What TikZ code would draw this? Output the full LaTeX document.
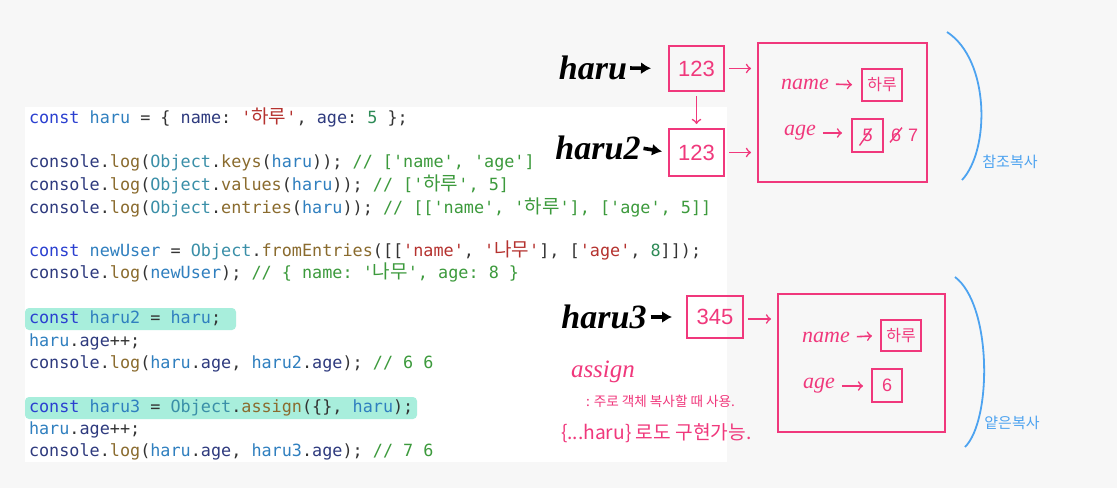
\documentclass[tikz,border=0pt]{standalone}
\usepackage{fontspec}
\setmainfont{Liberation Serif}
\setsansfont{Liberation Sans}
\setmonofont{DejaVu Sans Mono}
\newfontfamily\kr{Noto Sans CJK KR}
\usetikzlibrary{positioning, arrows.meta}

\definecolor{pagebg}{HTML}{F7F7F7}
\definecolor{marker}{HTML}{A8EEDC}
\definecolor{ckey}{HTML}{2A3FD0}
\definecolor{cvar}{HTML}{2F7FBF}
\definecolor{cprop}{HTML}{2E3A7E}
\definecolor{cfun}{HTML}{8A6B2E}
\definecolor{cobj}{HTML}{3A8FA8}
\definecolor{cstr}{HTML}{B5322F}
\definecolor{cnum}{HTML}{2E8B57}
\definecolor{ccom}{HTML}{3C9A3C}
\definecolor{cplain}{HTML}{333333}
\definecolor{pen}{HTML}{F0387C}
\definecolor{sky}{HTML}{4DA3F0}

% syntax colours for the code panel
\newcommand\ck[1]{\textcolor{ckey}{#1}}
\newcommand\cv[1]{\textcolor{cvar}{#1}}
\newcommand\cp[1]{\textcolor{cprop}{#1}}
\newcommand\cf[1]{\textcolor{cfun}{#1}}
\newcommand\co[1]{\textcolor{cobj}{#1}}
\newcommand\cs[1]{\textcolor{cstr}{#1}}
\newcommand\cn[1]{\textcolor{cnum}{#1}}
\newcommand\cc[1]{\textcolor{ccom}{#1}}
\newcommand\kw[1]{{\kr\fontsize{9.5}{10}\selectfont#1}}

\begin{document}
\begin{tikzpicture}[
    x=0.5pt, y=-0.5pt,
    line width=1pt,
    % Style for the code lines
    code/.style={anchor=base west, inner sep=0pt, text=cplain,
        font=\ttfamily\fontsize{8.4}{10}\selectfont},
    % Style for the black hand lettering
    hand/.style={inner sep=0pt, font=\bfseries\itshape\fontsize{17}{17}\selectfont},
    % Pink pen: boxes, words and arrows
    penbox/.style={draw=pen, line width=1pt, inner sep=0pt, text=pen},
    penword/.style={inner sep=0pt, text=pen, font=\itshape\fontsize{11}{11}\selectfont},
    penarrow/.style={draw=pen, line width=0.8pt, -to},
    inkarrow/.style={draw=black, line width=1.8pt, -{Latex[length=5pt,width=6pt]}},
    note/.style={anchor=west, inner sep=0pt, text=pen},
    bluenote/.style={inner sep=0pt, text=sky, font=\kr\fontsize{7.5}{8}\selectfont}
]

    % ==========================
    % Background and code panel
    % ==========================
    \fill[pagebg] (0,0) rectangle (1117,488);
    \fill[white] (25,107) rectangle (727,462);
    \fill[marker, rounded corners=2pt] (25,308) rectangle (236,330);
    \fill[marker, rounded corners=2pt] (25,397) rectangle (417,419);

    % ==========================
    % Code
    % ==========================
    \node[code] (line1) at (28,123) {\ck{const} \cv{haru} = \{ \cp{name}: \cs{'\kw{하루}'}, \cp{age}: \cn{5} \};};
    \node[code] (line2) at (28,167) {\cp{console}.\cf{log}(\co{Object}.\cf{keys}(\cv{haru})); \cc{// ['name', 'age']}};
    \node[code] (line3) at (28,190) {\cp{console}.\cf{log}(\co{Object}.\cf{values}(\cv{haru})); \cc{// ['\kw{하루}', 5]}};
    \node[code] (line4) at (28,213) {\cp{console}.\cf{log}(\co{Object}.\cf{entries}(\cv{haru})); \cc{// [['name', '\kw{하루}'], ['age', 5]]}};
    \node[code] (line5) at (28,256) {\ck{const} \cv{newUser} = \co{Object}.\cf{fromEntries}([[\cs{'name'}, \cs{'\kw{나무}'}], [\cs{'age'}, \cn{8}]]);};
    \node[code] (line6) at (28,278) {\cp{console}.\cf{log}(\cv{newUser}); \cc{// \{ name: '\kw{나무}', age: 8 \}}};
    \node[code] (line7) at (28,323) {\ck{const} \cv{haru2} = \cv{haru};};
    \node[code] (line8) at (28,346) {\cv{haru}.\cp{age}++;};
    \node[code] (line9) at (28,368) {\cp{console}.\cf{log}(\cv{haru}.\cp{age}, \cv{haru2}.\cp{age}); \cc{// 6 6}};
    \node[code] (line10) at (28,412) {\ck{const} \cv{haru3} = \co{Object}.\cf{assign}(\{\}, \cv{haru});};
    \node[code] (line11) at (28,434) {\cv{haru}.\cp{age}++;};
    \node[code] (line12) at (28,456) {\cp{console}.\cf{log}(\cv{haru}.\cp{age}, \cv{haru3}.\cp{age}); \cc{// 7 6}};

    % ==========================
    % Reference copy: haru, haru2
    % ==========================
    \node[hand] (haruLbl) at (593,68) {haru};
    \node[hand] (haruTwoLbl) at (598,148) {haru2};
    \node[penbox, minimum width=27.5pt, minimum height=22.5pt, font=\sffamily\fontsize{11}{11}\selectfont]
        (ptrA) at (696.5,68.5) {123};
    \node[penbox, minimum width=27.5pt, minimum height=23.5pt, font=\sffamily\fontsize{11}{11}\selectfont]
        (ptrB) at (696.5,152.5) {123};
    \node[penbox, minimum width=84.5pt, minimum height=69.5pt] (objA) at (842.5,112.5) {};

    \draw[inkarrow, shorten <=1pt, shorten >=8.5pt] (haruLbl.east) -- (ptrA.west);
    \draw[inkarrow, shorten <=1pt, shorten >=3pt] (haruTwoLbl.east) -- (ptrB.west);
    \draw[penarrow, shorten <=2pt, shorten >=2pt] (ptrA.south) -- (ptrB.north);
    \draw[penarrow, shorten <=2pt, shorten >=3pt] (ptrA.east) -- (ptrA.east -| objA.west);
    \draw[penarrow, shorten <=2pt, shorten >=3pt] (ptrB.east) -- (ptrB.east -| objA.west);

    \node[penword] (nameA) at (805,84) {name};
    \node[penbox, minimum width=20pt, minimum height=16pt, font=\kr\fontsize{8}{8}\selectfont]
        (nameValA) at (882,85) {하루};
    \node[penword] (ageA) at (800,133) {age};
    \node[penbox, minimum width=15.5pt, minimum height=16.5pt, font=\sffamily\fontsize{9}{9}\selectfont]
        (ageValA) at (867.5,135.5) {5};
    \node[inner sep=0pt, text=pen, font=\sffamily\fontsize{9}{9}\selectfont] (sixA) at (896,135) {6};
    \node[inner sep=0pt, text=pen, font=\sffamily\fontsize{9}{9}\selectfont] (sevenA) at (913,135) {7};
    \draw[draw=pen, line width=0.7pt] ([shift={(-2pt,-1pt)}]ageValA.center) ++(-4,8) -- ++(12,-17);
    \draw[draw=pen, line width=0.7pt] (sixA.south west) -- (sixA.north east);
    \draw[penarrow, shorten <=3pt, shorten >=4.5pt] (nameA.east) -- (nameValA.west);
    \draw[penarrow, shorten <=3pt, shorten >=4.5pt] (ageA.east) -- (ageA.east -| ageValA.west);

    \draw[sky, line width=0.9pt] (947,32) .. controls (990,60) and (990,150) .. (962,180);
    \node[bluenote] (refCopy) at (1010,162) {참조복사};

    % ==========================
    % Shallow copy: haru3
    % ==========================
    \node[hand] (haruThreeLbl) at (604,317) {haru3};
    \node[penbox, minimum width=28pt, minimum height=21pt, font=\sffamily\fontsize{11}{11}\selectfont]
        (ptrC) at (715,317) {345};
    \node[penbox, minimum width=83.5pt, minimum height=69pt] (objC) at (861.5,363) {};
    \draw[inkarrow, shorten <=1.5pt, shorten >=7pt] (haruThreeLbl.east) -- (ptrC.west);
    \draw[penarrow, shorten <=2pt, shorten >=3pt] ([yshift=-1pt]ptrC.east) -- ([yshift=-1pt]ptrC.east -| objC.west);

    \node[penword] (nameC) at (826,337) {name};
    \node[penbox, minimum width=20pt, minimum height=15.5pt, font=\kr\fontsize{8}{8}\selectfont]
        (nameValC) at (901,335.5) {하루};
    \node[penword] (ageC) at (819,386) {age};
    \node[penbox, minimum width=15pt, minimum height=16.5pt, font=\sffamily\fontsize{9}{9}\selectfont]
        (ageValC) at (887,385.5) {6};
    \draw[penarrow, shorten <=3pt, shorten >=4pt] (nameC.east) -- (nameValC.west);
    \draw[penarrow, shorten <=3pt, shorten >=4pt] (ageC.east) -- (ageC.east -| ageValC.west);

    \draw[sky, line width=0.9pt] (955,277) .. controls (992,305) and (992,420) .. (965,447);
    \node[bluenote] (shallowCopy) at (1012,423) {얕은복사};

    % notes under haru3
    \node[note, font=\itshape\fontsize{12.5}{12.5}\selectfont] (assignNote) at (570,372) {assign};
    \node[note, font=\kr\fontsize{6.8}{6.8}\selectfont] (usageNote) at (585,401) {: 주로 객체 복사할 때 사용.};
    \node[note, font=\kr\fontsize{9.6}{9.6}\selectfont] (spreadNote) at (560,433) {\{...haru\} 로도 구현가능.};

\end{tikzpicture}
\end{document}
